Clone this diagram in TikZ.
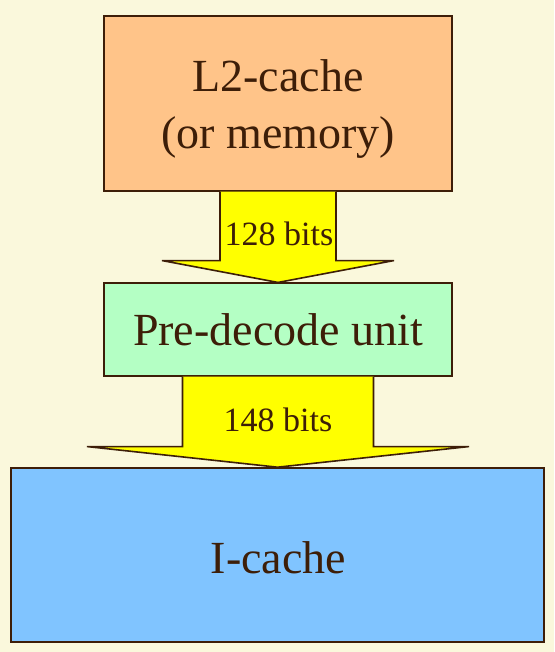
\documentclass[tikz,border=0pt]{standalone}
\usepackage{fontspec}
\setmainfont{Liberation Serif}
\usetikzlibrary{calc}
\definecolor{bg}{HTML}{FAF8DC}
\definecolor{brd}{HTML}{3D1E08}
\definecolor{orangebox}{HTML}{FFC489}
\definecolor{greenbox}{HTML}{B4FFC4}
\definecolor{bluebox}{HTML}{80C4FF}
\definecolor{arrowyellow}{HTML}{FFFF00}
\tikzset{
  unitbox/.style={draw=brd, line width=1.6pt, inner sep=0pt},
  boxtext/.style={text=brd, align=center, inner sep=0pt,
    font=\fontsize{46}{57}\selectfont},
  bigarrow/.style={fill=arrowyellow, draw=brd, line width=1.6pt, line join=miter},
  arrowlabel/.style={text=brd, inner sep=0pt, font=\fontsize{34}{40}\selectfont}
}
\begin{document}
\begin{tikzpicture}[x=1pt,y=-1pt]
\fill[bg] (0,0) rectangle (554,652);
\useasboundingbox (0,0) rectangle (554,652);

\node[unitbox, fill=orangebox, minimum width=348pt, minimum height=174.5pt] (l2) at (278,103.5) {};
\node[boxtext] (l2t) at ($(l2.center)+(0,6)$) {L2-cache\\(or memory)};
\node[unitbox, fill=greenbox, minimum width=348pt, minimum height=92.5pt] (pre) at (278,329.5) {};
\node[boxtext] (pret) at ($(pre.center)+(0,0)$) {Pre-decode unit};
\node[unitbox, fill=bluebox, minimum width=533pt, minimum height=174pt] (ic) at (277.5,555) {};
\node[boxtext] (ict) at ($(ic.center)+(1,3)$) {I-cache};

\draw[bigarrow] ($(l2.south)+(-58,0)$) -- ($(l2.south)+(-58,69)$) -- ($(l2.south)+(-116,69)$) -- (pre.north) -- ($(l2.south)+(116,69)$) -- ($(l2.south)+(58,69)$) -- ($(l2.south)+(58,0)$);
\node[arrowlabel] (lab1) at ($(l2.south)+(1,42)$) {128 bits};

\draw[bigarrow] ($(pre.south)+(-95.5,0)$) -- ($(pre.south)+(-95.5,70)$) -- ($(pre.south)+(-191,70)$) -- (ic.north) -- ($(pre.south)+(191,70)$) -- ($(pre.south)+(95.5,70)$) -- ($(pre.south)+(95.5,0)$);
\node[arrowlabel] (lab2) at ($(pre.south)+(0,43)$) {148 bits};
\end{tikzpicture}
\end{document}
